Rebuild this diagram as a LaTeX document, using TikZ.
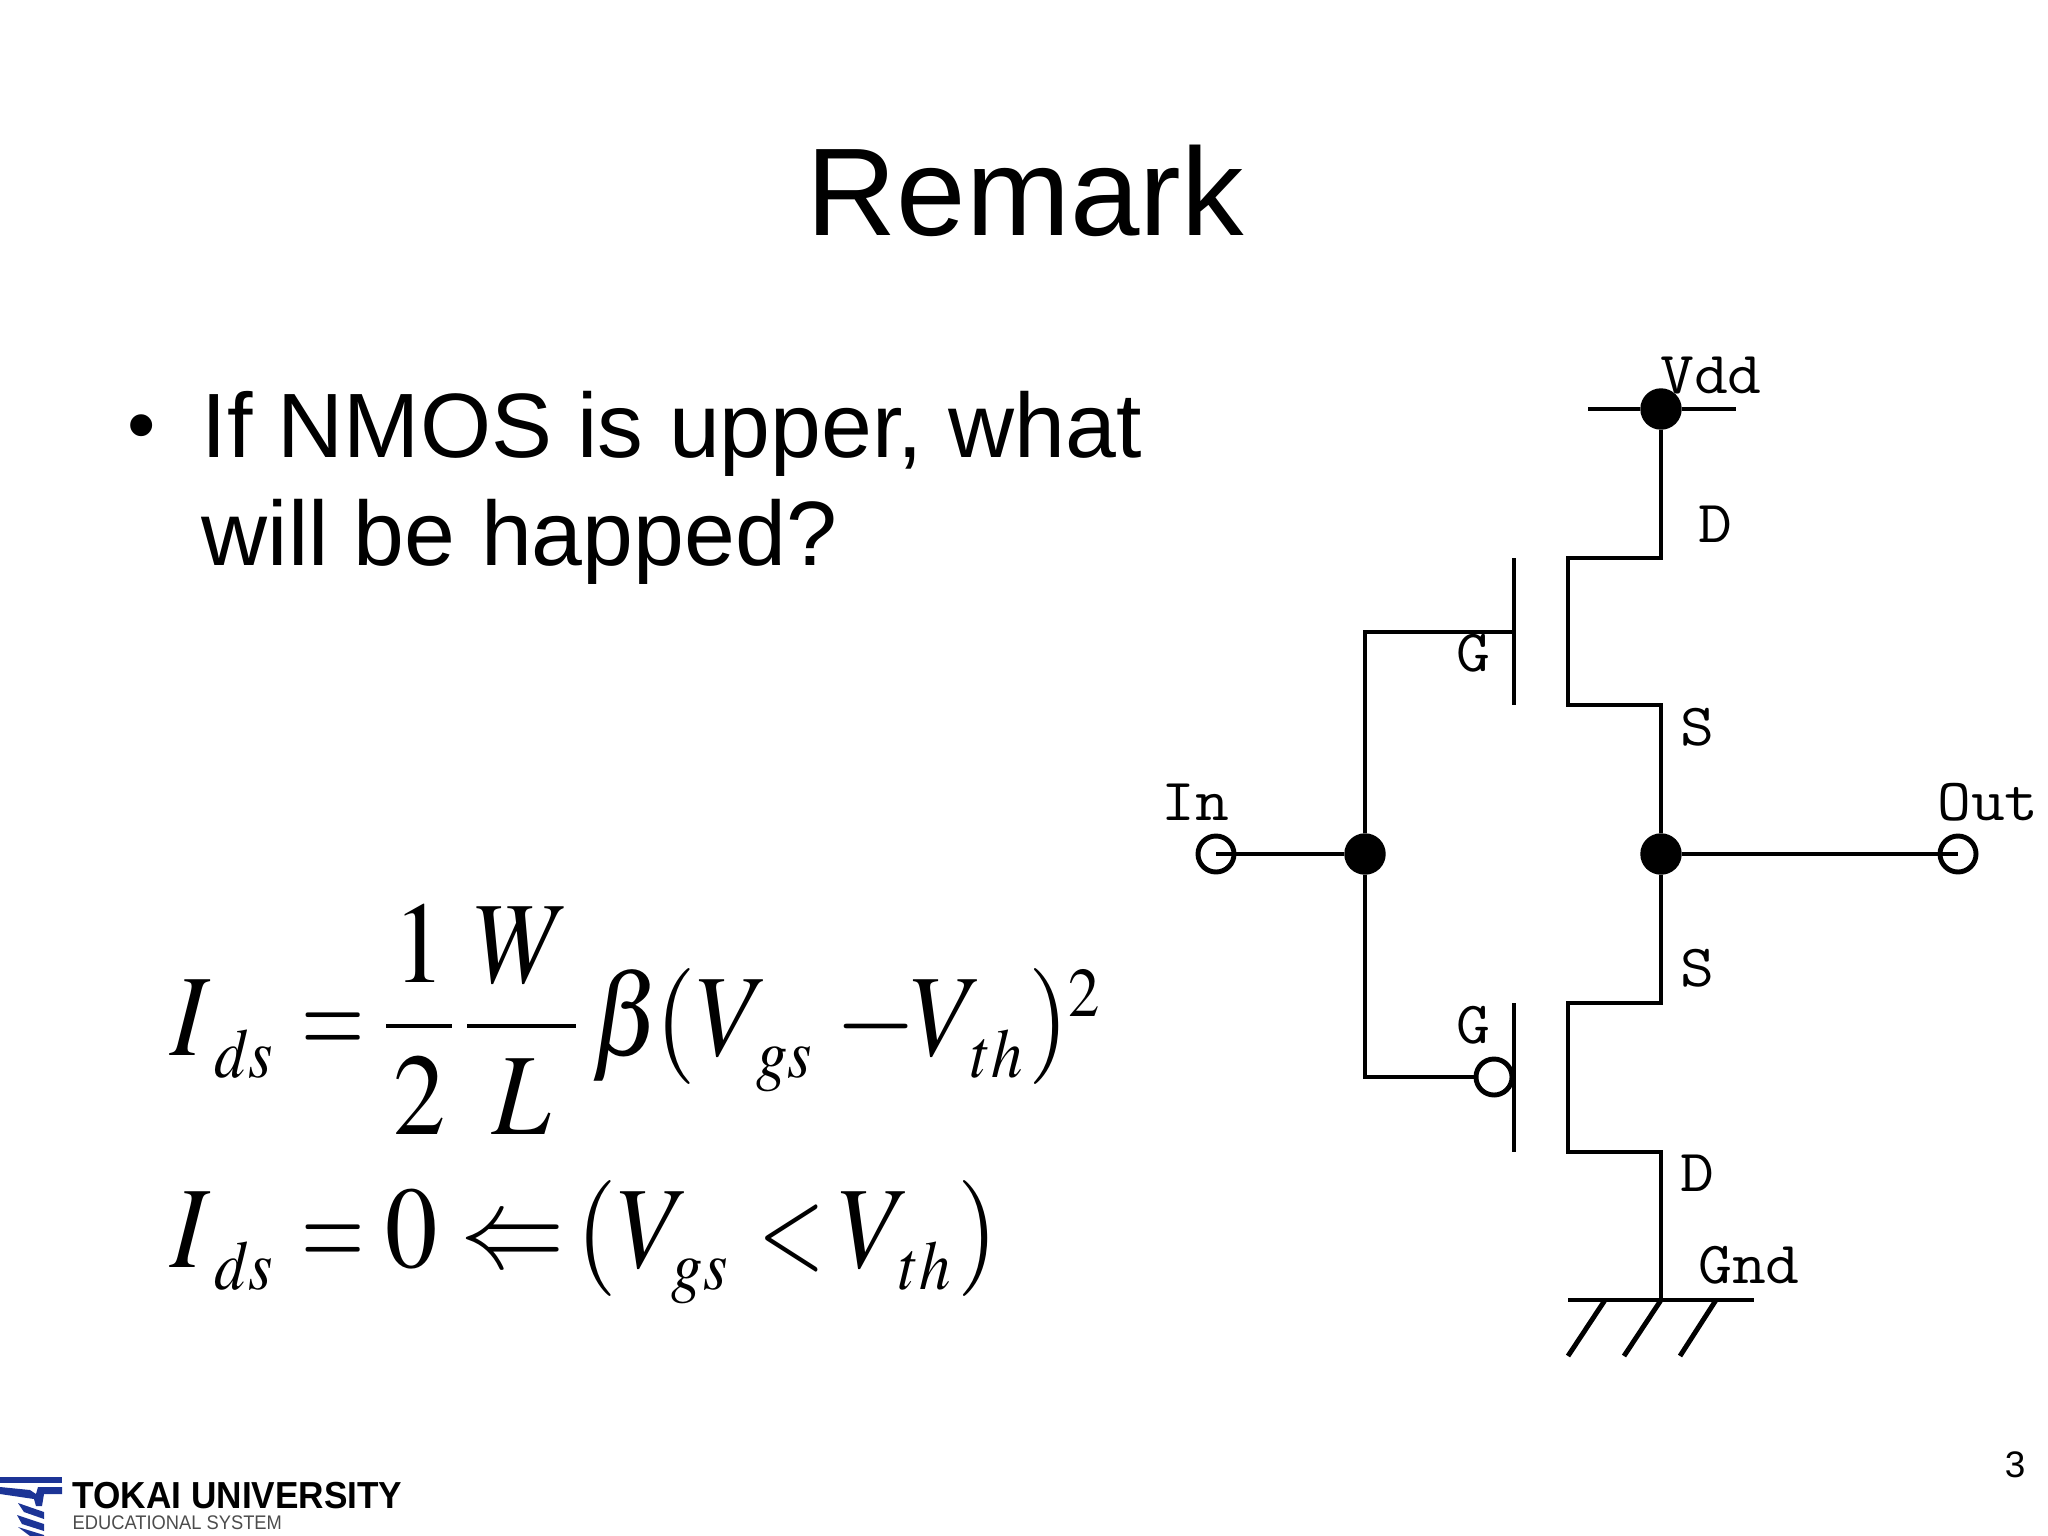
\documentclass[tikz,border=0pt]{standalone}
\usepackage{amsmath}
\usepackage{mathptmx}
\usepackage[no-math]{fontspec}
\setmainfont{Liberation Sans}
\usepackage{xcolor}
\usepackage{tikz}
\usetikzlibrary{positioning}
\definecolor{tokaiblue}{RGB}{28,52,150}
\newcommand{\sbb}[1]{\raisebox{-6.5pt}{$\scriptscriptstyle #1$}}
\newcommand{\gap}[1]{\mkern#1mu}
\newcommand{\upper}[1]{\raisebox{-1.8pt}[\height][0pt]{$\displaystyle\gap{1.2}#1\gap{1.2}$}}
\newcommand{\lowerpart}[1]{\gap{1.2}#1\gap{1.2}}
\newcommand{\eqs}{\mathord{\scalebox{.78}[1]{$=$}}}
\newcommand{\lts}{\mathord{\scalebox{.82}[1]{$<$}}}

\begin{document}
\begin{tikzpicture}[x=0.01cm, y=-0.01cm]

    % Define style for boxes
    \tikzstyle{titletext} = [inner sep=0pt, anchor=base, font=\fontsize{35.5}{40}\selectfont]
    \tikzstyle{bodytext} = [inner sep=0pt, anchor=base west, font=\fontsize{26}{30}\selectfont]
    \tikzstyle{formula} = [inner sep=0pt, anchor=base west, xscale=0.9, transform shape, font=\fontsize{33}{40}\selectfont]
    \tikzstyle{pin} = [inner sep=0pt, xscale=1.1, transform shape, font=\ttfamily\fontsize{17}{20}\selectfont]
    \tikzstyle{joint} = [circle, fill=black, draw=black, inner sep=0pt, minimum size=0.4cm]
    \tikzstyle{port} = [circle, draw=black, line width=1.4pt, inner sep=0pt, minimum size=0.36cm]
    \tikzstyle{wire} = [line width=1.4pt]

    \useasboundingbox (0,0) rectangle (2048,1536);

    % Slide text
    \node (title) [titletext] at (1025,235) {Remark};
    \node (bullet) [bodytext, font=\fontsize{23}{30}\selectfont] at (127,452) {•};
    \node (lineone) [bodytext] at (201,457) {If NMOS is upper, what};
    \node (linetwo) [bodytext] at (201,565) {will be happed?};

    % Formulas
    \node (ids) [formula] at (170,1055) {$I\gap{.6}\sbb{ds}\gap{4.9}\eqs\gap{3}\dfrac{\upper{1}}{\lowerpart{2}}\gap{1.3}\dfrac{\upper{W}}{\lowerpart{L}}\gap{2}\beta\gap{-1}(V\gap{-2}\sbb{gs}\gap{4}{-}\gap{-1}V\gap{-2}\sbb{th}\gap{1})\raisebox{11pt}{$\scriptscriptstyle 2$}$};
    \node (cut) [formula] at (170,1267) {$I\gap{.6}\sbb{ds}\gap{4.9}\eqs\gap{3.5}0\gap{4}{\Leftarrow}\gap{2}(V\gap{-3}\sbb{gs}\gap{5.3}\lts\gap{2.5}V\gap{-2}\sbb{th}\gap{1.2})$};

    % Nodes
    \node (vdd) [joint] at (1661,409) {};
    \node (injoint) [joint] at (1365,854) {};
    \node (outjoint) [joint] at (1661,854) {};
    \node (in) [port] at (1216,854) {};
    \node (out) [port] at (1958,854) {};
    \node (bubble) [port] at (1494,1077) {};

    \coordinate (vddleft) at (1588,409);
    \coordinate (vddright) at (1736,409);
    \coordinate (upd) at (1661,558);
    \coordinate (upchtop) at (1568,558);
    \coordinate (upchbot) at (1568,705);
    \coordinate (ups) at (1661,705);
    \coordinate (upgtop) at (1514,558);
    \coordinate (upgbot) at (1514,705);
    \coordinate (upgmid) at (1514,632);
    \coordinate (upwire) at (1365,632);
    \coordinate (lows) at (1661,1003);
    \coordinate (lowchtop) at (1568,1003);
    \coordinate (lowchbot) at (1568,1152);
    \coordinate (lowd) at (1661,1152);
    \coordinate (lowgtop) at (1514,1003);
    \coordinate (lowgbot) at (1514,1152);
    \coordinate (lowwire) at (1365,1077);
    \coordinate (gnd) at (1661,1300);
    \coordinate (gndleft) at (1568,1300);
    \coordinate (gndright) at (1754,1300);
    \coordinate (hatchatop) at (1605,1300);
    \coordinate (hatchabot) at (1568,1356);
    \coordinate (hatchbbot) at (1624,1356);
    \coordinate (hatchctop) at (1716,1300);
    \coordinate (hatchcbot) at (1680,1356);

    % Labels
    \node (vddlabel) [pin] at (1711,375) {Vdd};
    \node (dup) [pin] at (1715,524) {D};
    \node (gup) [pin] at (1473,653) {G};
    \node (sup) [pin] at (1697,727) {S};
    \node (inlabel) [pin] at (1195,802) {In};
    \node (outlabel) [pin] at (1988,802) {Out};
    \node (slow) [pin] at (1697,968) {S};
    \node (glow) [pin] at (1473,1025) {G};
    \node (dlow) [pin] at (1697,1173) {D};
    \node (gndlabel) [pin] at (1749,1265) {Gnd};

    % Lines
    \draw[wire] (vddleft) -- (vdd) -- (vddright);
    \draw[wire] (vdd) -- (upd) -- (upchtop) -- (upchbot) -- (ups) -- (outjoint);
    \draw[wire] (upgtop) -- (upgbot);
    \draw[wire] (upgmid) -- (upwire) -- (injoint);
    \draw[wire] (in.center) -- (injoint);
    \draw[wire] (outjoint) -- (out.center);
    \draw[wire] (injoint) -- (lowwire) -- (bubble);
    \draw[wire] (lowgtop) -- (lowgbot);
    \draw[wire] (outjoint) -- (lows) -- (lowchtop) -- (lowchbot) -- (lowd) -- (gnd);
    \draw[wire] (gndleft) -- (gndright);
    \draw[wire] (hatchatop) -- (hatchabot);
    \draw[wire] (gnd) -- (hatchbbot);
    \draw[wire] (hatchctop) -- (hatchcbot);

    % Footer
    \node (pagenum) [inner sep=0pt, anchor=base, font=\fontsize{10.5}{12}\selectfont] at (2015,1477) {3};
    \fill[tokaiblue] (0,1477) rectangle (62,1483);
    \fill[tokaiblue] (0,1487) -- (30,1490) -- (36,1494) -- (38,1487) -- (62,1487) -- (62,1494) -- (44,1494) -- (42,1506) -- (36,1506) -- (34,1499) -- (0,1494) -- cycle;
    \fill[tokaiblue] (18,1503) -- (44,1512) -- (44,1519) -- (24,1512) -- cycle;
    \fill[tokaiblue] (17,1515) -- (44,1524) -- (44,1531) -- (22,1524) -- cycle;
    \fill[tokaiblue] (18,1527) -- (44,1535) -- (44,1536) -- (30,1536) -- cycle;
    \node (tokai) [inner sep=0pt, anchor=base west, xscale=0.935, transform shape, font=\bfseries\fontsize{10.7}{12}\selectfont] at (72,1508) {TOKAI UNIVERSITY};
    \node (edusys) [inner sep=0pt, anchor=base west, xscale=0.93, transform shape, text=black!70, font=\fontsize{5.6}{6}\selectfont] at (72,1529) {EDUCATIONAL SYSTEM};

\end{tikzpicture}
\end{document}
